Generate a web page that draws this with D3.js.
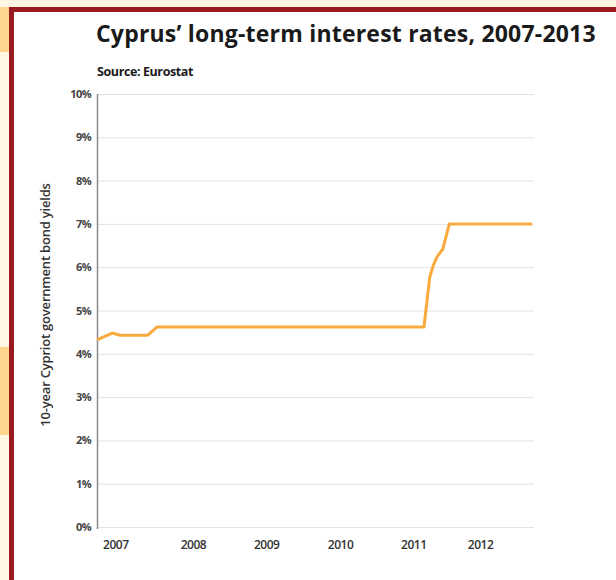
<!DOCTYPE html>
<html>
<head>
<meta charset="utf-8">
<script src="https://cdn.jsdelivr.net/npm/d3@7"></script>
<style>
  html, body { margin: 0; padding: 0; background: #fff6e3; }
  svg { display: block; }
</style>
</head>
<body>
<div id="chart"></div>
<script>
// Cyprus 10-year bond yields (decimal year, percent)
const years = [2007.0, 2007.21, 2007.32, 2007.70, 2007.83, 2011.51, 2011.55, 2011.59, 2011.64, 2011.69, 2011.77, 2011.86, 2013.0];
const yields = [4.32, 4.48, 4.43, 4.43, 4.62, 4.62, 5.2, 5.77, 6.05, 6.24, 6.42, 7.0, 7.0];

const yTicks = [0, 1, 2, 3, 4, 5, 6, 7, 8, 9, 10];
const xTickYears = [2007, 2008, 2009, 2010, 2011, 2012];
// labels sit a little after the start of each year
const xTickPos = [2007.26, 2008.33, 2009.34, 2010.36, 2011.37, 2012.29];

const title = "Cyprus\u2019 long-term interest rates, 2007-2013";
const subtitle = "Source: Eurostat";
const yTitle = "10-year Cypriot government bond yields";

const W = 616, H = 580;
const svg = d3.select('#chart').append('svg')
    .attr('width', W)
    .attr('height', H);

// page frame
svg.append('rect').attr('width', W).attr('height', H).attr('fill', '#fff6e3');
svg.append('rect').attr('x', 0).attr('y', 7).attr('width', 9).attr('height', 45).attr('fill', '#ffd68e');
svg.append('rect').attr('x', 0).attr('y', 347).attr('width', 9).attr('height', 88).attr('fill', '#ffd68e');
svg.append('rect').attr('x', 9).attr('y', 7).attr('width', W - 9).attr('height', H - 7).attr('fill', '#9a1b1f');
svg.append('rect').attr('x', 14).attr('y', 12).attr('width', W - 14).attr('height', H - 12).attr('fill', '#ffffff');

const x = d3.scaleLinear().domain([2007, 2013]).range([97, 532]);
const y = d3.scaleLinear().domain([0, 10]).range([527, 94]);

// titles
svg.append('clipPath').attr('id', 'titleClip')
  .append('rect').attr('x', 0).attr('y', 0).attr('width', 598).attr('height', 60);

svg.append('text')
    .attr('clip-path', 'url(#titleClip)')
    .attr('x', 96)
    .attr('y', 42)
    .attr('font-family', '"Open Sans", sans-serif')
    .attr('font-weight', 700)
    .attr('font-size', '23px')
    .attr('letter-spacing', '0.2px')
    .attr('fill', '#1a1a1a')
    .text(title);

svg.append('text')
    .attr('x', 97)
    .attr('y', 76)
    .attr('font-family', '"Open Sans", sans-serif')
    .attr('font-weight', 700)
    .attr('font-size', '12.5px')
    .attr('letter-spacing', '-0.4px')
    .attr('fill', '#1a1a1a')
    .text(subtitle);

// gridlines
svg.append('g')
  .selectAll('line')
  .data(yTicks)
  .enter()
  .append('line')
  .attr('x1', 97)
  .attr('x2', 534)
  .attr('y1', d => y(d) + 0.5)
  .attr('y2', d => y(d) + 0.5)
  .attr('stroke', '#e3e3e3')
  .attr('stroke-width', 1);

// y axis
const yAxis = d3.axisLeft(y)
    .tickValues(yTicks)
    .tickSize(0)
    .tickPadding(6)
    .tickFormat(d => d + '%');

const yG = svg.append('g')
    .attr('transform', 'translate(97,0)')
    .call(yAxis);
yG.select('.domain').remove();
yG.selectAll('text')
    .attr('font-family', '"Open Sans", sans-serif')
    .attr('font-weight', 700)
    .attr('font-size', '11px')
    .attr('letter-spacing', '-0.6px')
    .attr('fill', '#444');

svg.append('line')
    .attr('x1', 97.5).attr('x2', 97.5)
    .attr('y1', 94).attr('y2', 529)
    .attr('stroke', '#8a8a8a')
    .attr('stroke-width', 1.5);

// x axis labels
svg.append('g')
  .selectAll('text')
  .data(xTickYears)
  .enter()
  .append('text')
  .attr('x', (d, i) => x(xTickPos[i]))
  .attr('y', 549)
  .attr('text-anchor', 'middle')
  .attr('font-family', '"Open Sans", sans-serif')
  .attr('font-weight', 600)
  .attr('font-size', '12px')
  .attr('letter-spacing', '-0.5px')
  .attr('fill', '#333')
  .text(d => d);

// y axis title
svg.append('text')
    .attr('transform', 'translate(50,305) rotate(-90)')
    .attr('text-anchor', 'middle')
    .attr('font-family', '"Open Sans", sans-serif')
    .attr('font-weight', 600)
    .attr('font-size', '13px')
    .attr('letter-spacing', '-0.2px')
    .attr('fill', '#333')
    .text(yTitle);

// the line
const pts = years.map((yr, i) => ({ year: yr, value: yields[i] }));
const line = d3.line()
    .x(d => x(d.year))
    .y(d => y(d.value));

svg.append('path')
    .datum(pts)
    .attr('d', line)
    .attr('fill', 'none')
    .attr('stroke', '#f9aa3c')
    .attr('stroke-width', 3)
    .attr('stroke-linejoin', 'round');
</script>
</body>
</html>
